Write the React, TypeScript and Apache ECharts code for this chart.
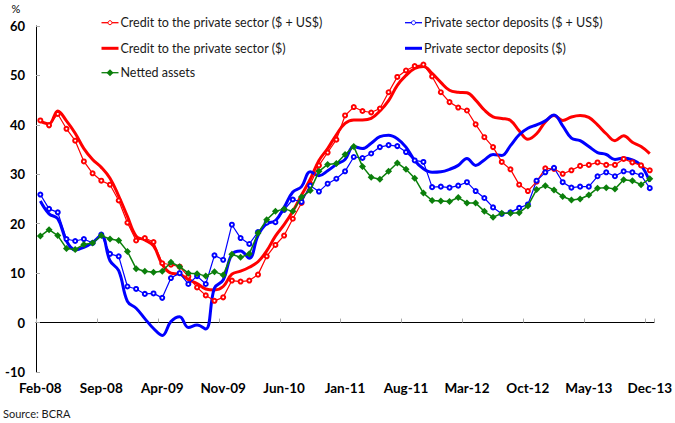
import React, { useEffect, useRef } from "react";
import * as echarts from "echarts";

const months = [
  "Feb-08","Mar-08","Apr-08","May-08","Jun-08","Jul-08","Aug-08","Sep-08","Oct-08","Nov-08","Dec-08",
  "Jan-09","Feb-09","Mar-09","Apr-09","May-09","Jun-09","Jul-09","Aug-09","Sep-09","Oct-09","Nov-09","Dec-09",
  "Jan-10","Feb-10","Mar-10","Apr-10","May-10","Jun-10","Jul-10","Aug-10","Sep-10","Oct-10","Nov-10","Dec-10",
  "Jan-11","Feb-11","Mar-11","Apr-11","May-11","Jun-11","Jul-11","Aug-11","Sep-11","Oct-11","Nov-11","Dec-11",
  "Jan-12","Feb-12","Mar-12","Apr-12","May-12","Jun-12","Jul-12","Aug-12","Sep-12","Oct-12","Nov-12","Dec-12",
  "Jan-13","Feb-13","Mar-13","Apr-13","May-13","Jun-13","Jul-13","Aug-13","Sep-13","Oct-13","Nov-13","Dec-13",
];

const creditTotal = [
  40.9, 39.9, 42.2, 39.2, 36.8, 32.6, 30.2, 28.7, 27.9, 24.7,
  20.2, 16.6, 17.1, 16.3, 12.0, 11.7, 11.3, 9.3, 7.1, 5.5,
  4.4, 5.1, 8.5, 8.3, 8.5, 9.7, 13.4, 15.7, 17.6, 21.0,
  24.2, 28.0, 31.8, 34.4, 37.0, 41.9, 43.6, 42.8, 42.5, 43.3,
  46.6, 49.7, 51.0, 51.9, 52.2, 49.8, 46.6, 44.6, 43.5, 42.9,
  40.1, 37.5, 35.5, 32.5, 31.0, 27.9, 26.6, 28.5, 31.2, 31.1,
  30.1, 30.8, 31.7, 31.9, 32.4, 31.9, 31.9, 33.1, 32.4, 31.8, 30.8,
];

const creditPesos = [
  40.7, 40.2, 42.8, 40.8, 38.3, 35.2, 33.0, 31.4, 29.2, 25.6,
  21.5, 17.5, 16.7, 15.5, 11.8, 10.0, 9.8, 8.7, 7.9, 6.8,
  6.6, 7.3, 9.8, 10.4, 11.2, 12.3, 14.5, 17.5, 19.8, 22.5,
  25.8, 29.0, 32.8, 35.2, 38.0, 40.3, 41.0, 41.0, 41.3, 42.8,
  44.9, 48.0, 50.0, 51.4, 51.8, 50.4, 48.6, 47.0, 46.6, 46.5,
  45.0, 43.0, 41.6, 41.3, 40.9, 38.8, 37.1, 38.2, 40.6, 41.9,
  40.9, 41.6, 41.9, 41.5, 40.0, 38.2, 36.8, 37.8, 36.5, 35.6, 34.2,
];

const depositsTotal = [
  25.9, 23.0, 22.3, 16.9, 16.5, 16.9, 16.1, 17.8, 13.9, 13.4,
  7.3, 6.8, 5.8, 5.9, 5.0, 9.0, 10.0, 7.8, 9.4, 7.8,
  13.6, 12.7, 19.8, 17.1, 15.9, 18.3, 20.2, 20.3, 22.8, 24.9,
  24.4, 27.7, 26.5, 28.1, 29.1, 30.6, 33.5, 33.3, 34.2, 35.5,
  35.9, 35.7, 34.5, 32.8, 32.5, 27.4, 27.5, 27.3, 27.7, 28.4,
  26.6, 25.2, 23.3, 22.0, 22.3, 23.2, 23.9, 28.7, 30.4, 31.3,
  28.4, 27.3, 27.5, 27.5, 29.6, 30.4, 29.6, 30.6, 30.4, 29.8, 27.2,
];

const depositsPesos = [
  24.6, 22.0, 21.0, 16.5, 14.7, 15.2, 16.2, 17.6, 12.5, 10.5,
  4.3, 2.9, 0.8, -1.2, -2.6, 0.2, 1.2, -1.0, -0.5, -1.3,
  7.0, 8.6, 13.8, 14.5, 13.0, 17.6, 20.0, 20.6, 23.3, 26.4,
  27.5, 30.5, 29.7, 30.7, 32.0, 33.0, 35.6, 35.2, 36.3, 37.6,
  37.9, 37.2, 35.5, 32.8, 31.1, 30.4, 30.5, 31.0, 31.8, 33.2,
  31.8, 32.9, 34.0, 33.8, 35.8, 38.0, 39.3, 40.0, 40.8, 42.0,
  39.8, 37.3, 36.8, 35.6, 34.4, 34.0, 33.0, 33.3, 32.9, 31.8, 28.5,
];

const nettedAssets = [
  17.5, 18.8, 17.6, 15.0, 14.8, 15.8, 16.1, 17.6, 16.9, 16.6,
  14.4, 10.9, 10.4, 10.2, 10.4, 12.2, 11.3, 10.0, 9.9, 9.4,
  10.3, 9.6, 13.8, 13.2, 13.9, 18.1, 20.8, 22.5, 23.0, 22.5,
  25.4, 26.7, 30.6, 32.0, 32.2, 34.0, 35.6, 31.6, 29.4, 29.0,
  30.6, 32.3, 31.0, 29.2, 26.2, 24.7, 24.6, 24.5, 25.3, 24.2,
  24.2, 22.5, 21.3, 22.1, 22.1, 22.2, 23.6, 26.9, 27.7, 26.8,
  25.5, 24.8, 25.0, 25.8, 27.2, 27.3, 27.0, 28.9, 28.7, 27.9, 29.1,
];

const yTicks = { min: -10, max: 60, interval: 10 };

const names = {
  creditTotal: "Credit to the private sector ($ + US$)",
  creditPesos: "Credit to the private sector ($)",
  depositsTotal: "Private sector deposits ($ + US$)",
  depositsPesos: "Private sector deposits ($)",
  netted: "Netted assets",
};

const FONT = "Lato, 'DejaVu Sans', sans-serif";
const RED = "#FF0000";
const BLUE = "#0000FF";
const GREEN = "#0B7F0B";

type LegendKind = "circle" | "thick" | "diamond";

function legendItem(x: number, y: number, label: string, color: string, kind: LegendKind) {
  const children: any[] = [
    {
      type: "line",
      shape: { x1: x, y1: y, x2: x + 17, y2: y },
      style: { stroke: color, lineWidth: kind === "thick" ? 3 : 1.3 },
    },
  ];
  const cx = x + 8.5;
  if (kind === "circle") {
    children.push({
      type: "circle",
      shape: { cx, cy: y, r: 2 },
      style: { fill: "#fff", stroke: color, lineWidth: 1 },
    });
  } else if (kind === "diamond") {
    children.push({
      type: "polygon",
      shape: { points: [[cx, y - 3.5], [cx + 3.5, y], [cx, y + 3.5], [cx - 3.5, y]] },
      style: { fill: color },
    });
  }
  children.push({
    type: "text",
    x: x + 19,
    y,
    style: {
      text: label,
      font: `12.5px ${FONT}`,
      fill: "#1a1a1a",
      align: "left",
      verticalAlign: "middle",
    },
  });
  return { type: "group", children };
}

export default function App() {
  const ref = useRef<HTMLDivElement>(null);

  useEffect(() => {
    if (!ref.current) return;
    const chart = echarts.init(ref.current, undefined, { renderer: "svg" });
    chart.setOption({
      animation: false,
      backgroundColor: "#fff",
      grid: { left: 36, right: 16, top: 26, bottom: 51, containLabel: false },
      graphic: [
        { type: "text", x: 16, y: 8, style: { text: "%", font: `11px ${FONT}`, fill: "#000", align: "center", verticalAlign: "middle" } },
        { type: "text", x: 3, y: 413, style: { text: "Source: BCRA", font: `11px ${FONT}`, fill: "#1a1a1a", align: "left", verticalAlign: "middle" } },
        legendItem(101.5, 22.7, names.creditTotal, RED, "circle"),
        legendItem(101.5, 48.3, names.creditPesos, RED, "thick"),
        legendItem(101.5, 72.7, names.netted, GREEN, "diamond"),
        legendItem(405, 22.7, names.depositsTotal, BLUE, "circle"),
        legendItem(405, 48.3, names.depositsPesos, BLUE, "thick"),
      ],
      xAxis: [
        {
          type: "category",
          data: months,
          boundaryGap: true,
          position: "bottom",
          axisLine: { show: false, onZero: false },
          axisTick: { show: false },
          axisLabel: {
            interval: 6,
            margin: 9,
            fontFamily: FONT,
            fontWeight: "bold",
            fontSize: 13.5,
            color: "#000",
          },
          splitLine: { show: false },
        },
        {
          type: "category",
          data: months,
          boundaryGap: true,
          position: "bottom",
          axisLine: { show: true, onZero: true, lineStyle: { color: "#000", width: 1 } },
          axisTick: { show: true, inside: true, interval: 6, length: 4, lineStyle: { color: "#aaa" } },
          axisLabel: { show: false },
          splitLine: { show: false },
        },
      ],
      yAxis: {
        type: "value",
        min: yTicks.min,
        max: yTicks.max,
        interval: yTicks.interval,
        axisLine: { show: true, onZero: false, lineStyle: { color: "#000", width: 1 } },
        axisTick: { show: true, inside: true, length: 4, lineStyle: { color: "#aaa" } },
        splitLine: { show: false },
        axisLabel: {
          margin: 11,
          fontFamily: FONT,
          fontWeight: "bold",
          fontSize: 13,
          color: "#000",
        },
      },
      series: [
        {
          name: names.creditPesos,
          type: "line",
          data: creditPesos,
          symbol: "none",
          smooth: 0.4,
          lineStyle: { color: RED, width: 3 },
          itemStyle: { color: RED },
          z: 2,
        },
        {
          name: names.depositsPesos,
          type: "line",
          data: depositsPesos,
          symbol: "none",
          smooth: 0.4,
          lineStyle: { color: BLUE, width: 3 },
          itemStyle: { color: BLUE },
          z: 2,
        },
        {
          name: names.creditTotal,
          type: "line",
          data: creditTotal,
          symbol: "emptyCircle",
          symbolSize: 4,
          showAllSymbol: true,
          lineStyle: { color: RED, width: 1.2 },
          itemStyle: { color: RED, borderWidth: 1 },
          z: 3,
        },
        {
          name: names.depositsTotal,
          type: "line",
          data: depositsTotal,
          symbol: "emptyCircle",
          symbolSize: 4,
          showAllSymbol: true,
          lineStyle: { color: BLUE, width: 1.2 },
          itemStyle: { color: BLUE, borderWidth: 1 },
          z: 3,
        },
        {
          name: names.netted,
          type: "line",
          data: nettedAssets,
          symbol: "diamond",
          symbolSize: 7,
          showAllSymbol: true,
          lineStyle: { color: GREEN, width: 1.5 },
          itemStyle: { color: GREEN },
          z: 4,
        },
      ],
    });
    return () => chart.dispose();
  }, []);

  return (
    <div
      ref={ref}
      style={{ position: "absolute", left: 0, top: 0, width: 675, height: 423 }}
    />
  );
}
